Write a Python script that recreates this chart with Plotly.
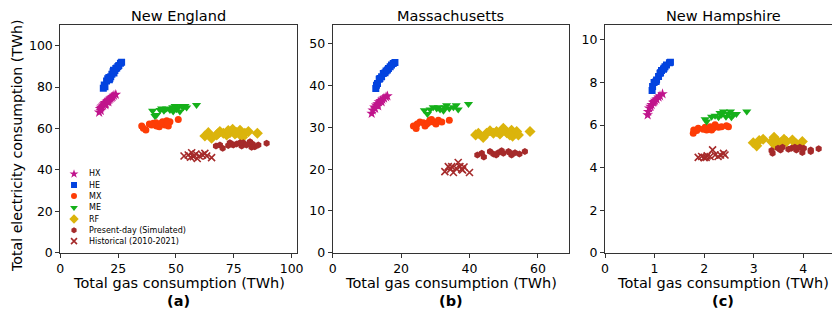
import plotly.graph_objects as go

# ---------------- labels ----------------
regions = ["New England", "Massachusetts", "New Hampshire"]
panel_tags = ["(a)", "(b)", "(c)"]
series_names = ["HX", "HE", "MX", "ME", "RF", "Present-day (Simulated)", "Historical (2010-2021)"]
x_ticks = [[0, 25, 50, 75, 100], [0, 20, 40, 60], [0, 1, 2, 3, 4]]
y_ticks = [[0, 20, 40, 60, 80, 100], [0, 10, 20, 30, 40, 50], [0, 2, 4, 6, 8, 10]]
x_label = "Total gas consumption (TWh)"
y_label = "Total electricity consumption (TWh)"

# ---------------- New England ----------------
ne_hx_gas = [16.8, 17.2, 17.6, 18.0, 18.5, 18.9, 19.3, 19.7, 20.1, 20.5, 20.9, 21.3, 21.7, 22.2, 22.6, 23.2, 24.0, 19.5, 20.8, 17.5]
ne_hx_elec = [67.8, 69.5, 70.2, 70.8, 71.2, 71.8, 72.4, 72.0, 73.0, 73.4, 73.8, 74.2, 74.6, 75.0, 75.4, 76.0, 76.4, 71.4, 72.8, 68.6]
ne_he_gas = [18.6, 19.0, 19.3, 20.0, 20.5, 21.0, 21.4, 21.8, 22.3, 22.8, 23.2, 23.6, 24.0, 24.4, 24.9, 25.3, 26.0, 26.5, 21.2, 23.0]
ne_he_elec = [79.5, 81.0, 80.2, 83.0, 84.0, 84.6, 84.2, 85.0, 86.2, 87.4, 86.8, 88.0, 89.0, 89.2, 90.0, 90.4, 91.5, 92.0, 83.6, 88.2]
ne_mx_gas = [35.2, 35.9, 37.0, 38.5, 40.2, 41.6, 43.1, 44.2, 45.2, 46.0, 47.4, 46.7, 51.0, 41.4, 42.8, 43.8, 46.3, 39.5]
ne_mx_elec = [61.2, 60.1, 59.3, 62.2, 62.5, 61.2, 62.2, 63.3, 61.7, 63.8, 63.3, 61.2, 64.4, 62.8, 60.9, 62.5, 62.5, 61.7]
ne_me_gas = [39.9, 40.9, 43.8, 45.2, 47.4, 49.6, 50.3, 51.7, 53.2, 53.9, 54.6, 58.9, 46.0, 48.6, 41.6, 44.8, 51.0, 52.5, 43.1, 48.8]
ne_me_elec = [68.6, 66.0, 69.7, 69.3, 68.9, 70.9, 69.3, 68.2, 70.3, 70.9, 70.1, 71.3, 69.7, 70.3, 66.5, 68.6, 70.3, 70.9, 68.9, 68.2]
ne_rf_gas = [62.5, 64.0, 65.4, 67.6, 69.0, 70.5, 71.9, 73.3, 74.5, 75.5, 77.7, 78.4, 79.8, 81.3, 85.2, 78.8, 76.2, 68.3, 72.6]
ne_rf_elec = [56.4, 58.0, 55.3, 56.9, 58.5, 57.7, 56.9, 58.0, 59.6, 57.3, 59.2, 56.9, 57.7, 58.5, 57.7, 55.8, 58.0, 57.7, 59.0]
ne_pd_gas = [67.3, 69.0, 70.2, 73.3, 74.8, 76.2, 78.4, 79.1, 82.0, 83.1, 84.1, 85.6, 89.2, 80.5, 77.7, 74.1, 82.7, 72.6]
ne_pd_elec = [51.5, 52.0, 50.4, 53.1, 52.0, 52.5, 51.5, 53.1, 53.6, 52.5, 51.2, 52.0, 52.9, 52.0, 53.1, 52.5, 50.9, 51.8]
ne_hist_gas = [53.5, 55.3, 56.8, 57.5, 58.6, 59.2, 61.5, 62.5, 63.3, 65.4, 56.3, 60.1]
ne_hist_elec = [46.7, 47.2, 48.3, 46.4, 47.7, 45.5, 47.2, 48.0, 46.7, 45.9, 46.1, 46.7]

# ---------------- Massachusetts ----------------
ma_hx_gas = [11.4, 11.7, 12.2, 12.7, 13.1, 13.5, 14.0, 14.5, 15.0, 15.6, 16.0, 13.3, 12.4, 14.3]
ma_hx_elec = [33.3, 34.1, 34.8, 35.3, 35.6, 36.1, 36.4, 36.7, 37.0, 37.3, 37.5, 35.1, 34.5, 36.1]
ma_he_gas = [12.6, 12.8, 13.6, 14.3, 14.8, 15.6, 16.3, 16.8, 17.7, 18.2, 13.8, 15.3, 16.0, 13.1, 17.2]
ma_he_elec = [39.3, 40.1, 41.5, 42.1, 42.9, 43.5, 44.1, 44.5, 45.3, 45.5, 41.7, 43.1, 43.7, 40.5, 44.9]
ma_mx_gas = [23.6, 24.4, 25.5, 26.5, 27.5, 28.4, 29.4, 30.2, 30.9, 31.9, 34.1, 27.0, 28.9, 27.9, 24.7]
ma_mx_elec = [30.3, 29.7, 31.3, 31.1, 30.8, 31.7, 31.3, 30.8, 31.7, 31.3, 31.7, 30.3, 31.9, 31.1, 30.8]
ma_me_gas = [26.8, 27.7, 29.4, 30.4, 31.4, 32.4, 33.3, 34.1, 35.3, 36.1, 36.7, 39.7, 30.9, 32.8, 28.5]
ma_me_elec = [34.1, 33.2, 34.8, 34.5, 34.3, 34.0, 35.3, 34.5, 34.8, 35.3, 34.3, 35.6, 34.8, 34.8, 34.3]
ma_rf_gas = [41.8, 42.6, 44.0, 46.0, 47.0, 47.9, 48.9, 49.9, 50.9, 52.3, 52.6, 53.8, 54.3, 57.7, 45.0, 49.4, 51.8]
ma_rf_elec = [28.2, 28.6, 27.6, 29.2, 28.6, 29.0, 28.4, 29.8, 28.7, 29.3, 27.9, 29.0, 28.2, 29.0, 28.6, 29.0, 28.2]
ma_pd_gas = [42.3, 43.6, 44.2, 46.0, 47.0, 48.4, 49.4, 49.9, 51.4, 52.3, 53.3, 54.6, 56.2, 47.8, 51.8]
ma_pd_elec = [23.4, 23.8, 22.9, 24.2, 23.6, 23.9, 24.4, 23.8, 24.2, 23.4, 23.9, 23.6, 24.2, 23.4, 23.9]
ma_hist_gas = [32.8, 33.8, 34.5, 35.3, 36.1, 36.7, 37.2, 37.7, 38.4, 40.0, 34.8, 38.0]
ma_hist_elec = [19.4, 20.6, 20.0, 19.2, 20.2, 21.6, 20.6, 20.0, 20.5, 19.2, 20.6, 19.8]

# ---------------- New Hampshire ----------------
nh_hx_gas = [0.86, 0.89, 0.94, 0.97, 1.01, 1.04, 1.08, 1.11, 1.16, 0.92, 0.99, 0.87]
nh_hx_elec = [6.47, 6.79, 6.95, 7.06, 7.15, 7.21, 7.31, 7.37, 7.46, 6.87, 7.10, 6.63]
nh_he_gas = [0.95, 0.96, 0.99, 1.04, 1.08, 1.11, 1.14, 1.18, 1.21, 1.24, 1.30, 1.32, 1.03, 1.12, 1.19]
nh_he_elec = [7.62, 7.81, 8.00, 8.12, 8.28, 8.43, 8.56, 8.62, 8.74, 8.82, 8.93, 8.95, 8.04, 8.46, 8.67]
nh_mx_gas = [1.78, 1.79, 1.88, 2.02, 2.05, 2.12, 2.18, 2.22, 2.29, 2.35, 2.45, 2.49, 1.98, 2.15, 1.85]
nh_mx_elec = [5.61, 5.77, 5.85, 5.89, 5.77, 5.92, 5.85, 6.01, 5.89, 5.92, 5.96, 5.92, 5.80, 5.77, 5.74]
nh_me_gas = [2.02, 2.05, 2.15, 2.22, 2.29, 2.35, 2.39, 2.44, 2.49, 2.53, 2.59, 2.65, 2.86, 2.32, 2.55]
nh_me_elec = [6.27, 6.16, 6.39, 6.43, 6.37, 6.48, 6.63, 6.39, 6.52, 6.63, 6.48, 6.52, 6.63, 6.56, 6.37]
nh_rf_gas = [2.99, 3.06, 3.11, 3.19, 3.36, 3.41, 3.46, 3.54, 3.61, 3.66, 3.78, 3.86, 3.98, 3.43, 3.58]
nh_rf_elec = [5.17, 5.02, 5.27, 5.33, 5.22, 5.42, 5.27, 5.17, 5.33, 5.22, 5.30, 5.11, 5.22, 5.06, 5.11]
nh_pd_gas = [3.36, 3.38, 3.49, 3.58, 3.70, 3.76, 3.86, 3.93, 3.98, 4.01, 4.15, 4.15, 4.31, 3.54, 3.83]
nh_pd_elec = [4.80, 4.67, 4.91, 4.96, 4.86, 4.91, 4.83, 4.96, 4.71, 4.91, 4.83, 4.75, 4.88, 4.83, 4.96]
nh_hist_gas = [1.88, 1.95, 2.00, 2.06, 2.12, 2.17, 2.22, 2.28, 2.33, 2.39, 2.42, 2.04]
nh_hist_elec = [4.48, 4.52, 4.47, 4.55, 4.52, 4.83, 4.59, 4.52, 4.59, 4.67, 4.59, 4.48]

data = {
    "New England": [(ne_hx_gas, ne_hx_elec), (ne_he_gas, ne_he_elec), (ne_mx_gas, ne_mx_elec),
                    (ne_me_gas, ne_me_elec), (ne_rf_gas, ne_rf_elec), (ne_pd_gas, ne_pd_elec),
                    (ne_hist_gas, ne_hist_elec)],
    "Massachusetts": [(ma_hx_gas, ma_hx_elec), (ma_he_gas, ma_he_elec), (ma_mx_gas, ma_mx_elec),
                      (ma_me_gas, ma_me_elec), (ma_rf_gas, ma_rf_elec), (ma_pd_gas, ma_pd_elec),
                      (ma_hist_gas, ma_hist_elec)],
    "New Hampshire": [(nh_hx_gas, nh_hx_elec), (nh_he_gas, nh_he_elec), (nh_mx_gas, nh_mx_elec),
                      (nh_me_gas, nh_me_elec), (nh_rf_gas, nh_rf_elec), (nh_pd_gas, nh_pd_elec),
                      (nh_hist_gas, nh_hist_elec)],
}

# ---------------- styles ----------------
styles = [
    dict(symbol="star", size=8, color="#c0148c"),
    dict(symbol="square", size=7, color="#0343df"),
    dict(symbol="circle", size=7, color="#fd3c06"),
    dict(symbol="triangle-down", size=8, color="#15b01a"),
    dict(symbol="diamond", size=8.5, color="#dbb40c"),
    dict(symbol="hexagon", size=7, color="#a52a2a"),
    dict(symbol="x-thin", size=7, color="#a52a2a"),
]

FONT = "DejaVu Sans"
# The page body adds an 8px offset; the figure is sized so the window
# (840x313) is covered, and window pixel positions are mapped to paper.
OFF = 8
FW, FH = 840 - OFF, 313 - OFF


def xp(px):
    return (px - OFF) / FW


def yp(py):
    return (FH - (py - OFF)) / FH


x_domains = [[xp(60.3), xp(296.7)], [xp(332.7), xp(569.0)], [xp(605.0), 1.0]]
y_domain = [yp(252.7), yp(25.0)]
x_ranges = [[0, 102.2], [0, 69.1], [0, 4.74]]
y_ranges = [[0, 110], [0, 54.5], [0, 10.7]]
panel_centers = [178.5, 450.9, 723.2]


def make_marker(st, size_scale=1.0):
    m = dict(symbol=st["symbol"], size=st["size"] * size_scale, color=st["color"])
    if st["symbol"] == "x-thin":
        m["line"] = dict(color=st["color"], width=1.6)
    else:
        m["line"] = dict(width=0)
    return m


fig = go.Figure()
for i, region in enumerate(regions):
    xa = "x" if i == 0 else f"x{i + 1}"
    ya = "y" if i == 0 else f"y{i + 1}"
    for s, name in enumerate(series_names):
        gx, gy = data[region][s]
        fig.add_trace(go.Scatter(x=gx, y=gy, mode="markers", name=name,
                                 marker=make_marker(styles[s]), xaxis=xa, yaxis=ya,
                                 showlegend=False))

# ---------------- hand-made legend on an overlay axis of panel (a) ----------------
leg_marker_x = 0.058
leg_text_x = 0.117
leg_y = [0.346, 0.297, 0.249, 0.198, 0.148, 0.099, 0.051]
for s, name in enumerate(series_names):
    fig.add_trace(go.Scatter(x=[leg_marker_x], y=[leg_y[s]], mode="markers",
                             marker=make_marker(styles[s], 0.85), xaxis="x4", yaxis="y4",
                             showlegend=False, hoverinfo="skip"))
    fig.add_annotation(x=leg_text_x, y=leg_y[s], xref="x4", yref="y4", text=name,
                       showarrow=False, xanchor="left", yanchor="middle", borderpad=0,
                       font=dict(family=FONT, size=8, color="black"))

axis_common = dict(showline=True, linecolor="#333333", linewidth=1, mirror=True,
                   ticks="outside", ticklen=4, tickwidth=1, tickcolor="#333333",
                   showgrid=False, zeroline=False, automargin=False,
                   tickfont=dict(family=FONT, size=12.5, color="black"))

layout = dict(width=FW, height=FH, margin=dict(l=0, r=0, t=0, b=0),
              paper_bgcolor="white", plot_bgcolor="white", showlegend=False)
for i in range(3):
    sx = "" if i == 0 else str(i + 1)
    layout["xaxis" + sx] = dict(axis_common, domain=x_domains[i], range=x_ranges[i],
                                tickvals=x_ticks[i], anchor="y" + sx)
    layout["yaxis" + sx] = dict(axis_common, domain=y_domain, range=y_ranges[i],
                                tickvals=y_ticks[i], anchor="x" + sx)
layout["xaxis4"] = dict(overlaying="x", range=[0, 1], visible=False, anchor="y4")
layout["yaxis4"] = dict(overlaying="y", range=[0, 1], visible=False, anchor="x4")
fig.update_layout(**layout)

# ---------------- titles and labels ----------------
for i in range(3):
    xc = xp(panel_centers[i])
    fig.add_annotation(x=xc, y=yp(16), xref="paper", yref="paper", text=regions[i],
                       showarrow=False, xanchor="center", yanchor="middle", borderpad=0,
                       font=dict(family=FONT, size=14.5, color="black"))
    fig.add_annotation(x=xc, y=yp(283), xref="paper", yref="paper", text=x_label,
                       showarrow=False, xanchor="center", yanchor="middle", borderpad=0,
                       font=dict(family=FONT, size=14.5, color="black"))
    fig.add_annotation(x=xc, y=yp(301), xref="paper", yref="paper",
                       text="<b>" + panel_tags[i] + "</b>",
                       showarrow=False, xanchor="center", yanchor="middle", borderpad=0,
                       font=dict(family=FONT, size=14.5, color="black"))

fig.add_annotation(x=xp(17), y=yp(146), xref="paper", yref="paper", text=y_label,
                   showarrow=False, textangle=-90, xanchor="center", yanchor="middle",
                   borderpad=0, font=dict(family=FONT, size=14.2, color="black"))

fig.write_html("out.html")
